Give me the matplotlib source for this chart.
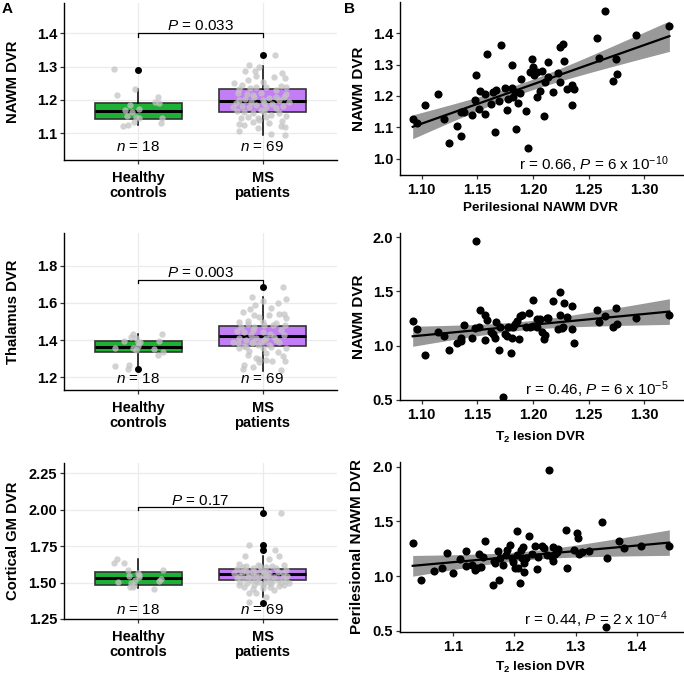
import numpy as np
import matplotlib
matplotlib.use("Agg")
import matplotlib.pyplot as plt

plt.rcParams['font.family'] = ['Liberation Sans', 'DejaVu Sans']
plt.rcParams['mathtext.fontset'] = 'custom'
plt.rcParams['mathtext.rm'] = 'Liberation Sans'
plt.rcParams['mathtext.it'] = 'Liberation Sans:italic'
plt.rcParams['mathtext.bf'] = 'Liberation Sans:bold'

# ---- panel A: box plots (whislo, q1, median, q3, whishi) ----
groups = ["Healthy\ncontrols", "MS\npatients"]
group_n = [18, 69]

nawm_hc_box = [1.125, 1.143, 1.168, 1.192, 1.232]
nawm_ms_box = [1.095, 1.164, 1.197, 1.232, 1.303]
nawm_hc_out = [1.291]
nawm_ms_out = [1.335]
nawm_p = "0.033"

thal_hc_box = [1.261, 1.338, 1.365, 1.395, 1.431]
thal_ms_box = [1.236, 1.368, 1.420, 1.478, 1.633]
thal_hc_out = [1.243]
thal_ms_out = [1.685]
thal_p = "0.003"

cort_hc_box = [1.465, 1.483, 1.534, 1.573, 1.660]
cort_ms_box = [1.403, 1.518, 1.559, 1.593, 1.683]
cort_hc_out = []
cort_ms_out = [1.980, 1.758, 1.724, 1.362]
cort_p = "0.17"

# individual subjects (value, jitter offset)
nawm_hc_y = [1.292, 1.216, 1.233, 1.208, 1.193, 1.190, 1.184, 1.170, 1.165, 1.173,
             1.152, 1.148, 1.145, 1.145, 1.135, 1.124, 1.123, 1.132]
nawm_hc_dx = [-0.198, -0.174, -0.027, 0.155, 0.131, 0.169, -0.067, -0.105, -0.051, 0.003,
              -0.091, -0.019, 0.008, 0.190, -0.038, -0.086, -0.121, 0.182]
nawm_ms_y = [1.305, 1.287, 1.287, 1.272, 1.335, 1.282, 1.267, 1.250, 1.245, 1.232,
             1.235, 1.238, 1.240, 1.242, 1.220, 1.217, 1.215, 1.222, 1.230, 1.210,
             1.218, 1.200, 1.202, 1.195, 1.200, 1.205, 1.200, 1.182, 1.178, 1.185,
             1.180, 1.188, 1.182, 1.168, 1.165, 1.160, 1.170, 1.155, 1.160, 1.145,
             1.145, 1.150, 1.152, 1.128, 1.135, 1.138, 1.132, 1.122, 1.118, 1.108,
             1.098, 1.095, 1.140, 1.175, 1.190, 1.210, 1.260, 1.255, 1.268, 1.210,
             1.190, 1.150, 1.165, 1.195, 1.180, 1.300, 1.238, 1.125, 1.115]
nawm_ms_dx = [-0.113, -0.139, -0.059, -0.054, 0.102, 0.155, 0.182, -0.228, -0.166, -0.188,
              -0.102, -0.054, 0.027, 0.147, -0.201, -0.129, -0.080, -0.013, 0.107, 0.174,
              0.193, -0.193, -0.139, -0.094, 0.0, 0.054, 0.134, -0.166, -0.113, -0.054,
              0.027, 0.075, 0.161, -0.209, -0.147, -0.080, -0.013, 0.067, 0.134, -0.174,
              -0.040, 0.027, 0.188, -0.193, -0.080, 0.155, 0.048, 0.147, 0.182, -0.188,
              0.067, 0.182, -0.027, 0.107, 0.013, -0.067, -0.121, 0.0, 0.094, 0.107,
              -0.214, -0.121, 0.013, 0.214, -0.241, -0.027, 0.188, -0.147, -0.040]

thal_hc_y = [1.261, 1.245, 1.266, 1.395, 1.418, 1.431, 1.410, 1.388, 1.388, 1.356,
             1.347, 1.370, 1.359, 1.352, 1.395, 1.435, 1.320, 1.338]
thal_hc_dx = [-0.193, -0.086, -0.078, -0.113, -0.059, -0.040, -0.019, -0.005, 0.013, -0.046,
              -0.019, -0.005, -0.193, 0.129, 0.169, 0.188, 0.155, 0.196]
thal_ms_y = [1.685, 1.633, 1.610, 1.601, 1.589, 1.549, 1.571, 1.621, 1.526, 1.538,
             1.538, 1.517, 1.567, 1.499, 1.485, 1.472, 1.481, 1.490, 1.481, 1.449,
             1.442, 1.454, 1.445, 1.431, 1.454, 1.410, 1.401, 1.413, 1.410, 1.418,
             1.427, 1.383, 1.370, 1.392, 1.388, 1.374, 1.388, 1.359, 1.341, 1.356,
             1.365, 1.359, 1.320, 1.306, 1.284, 1.293, 1.288, 1.288, 1.266, 1.257,
             1.239, 1.245, 1.299, 1.499, 1.503, 1.427, 1.338, 1.329, 1.472, 1.374,
             1.401, 1.535, 1.535, 1.365, 1.401, 1.316, 1.383, 1.481, 1.392]
thal_ms_dx = [0.161, -0.086, 0.0, 0.121, -0.059, -0.161, 0.067, 0.193, -0.032, 0.134,
              0.169, 0.188, -0.102, -0.193, -0.121, -0.067, 0.013, 0.107, 0.182, -0.209,
              -0.147, -0.080, 0.0, 0.059, 0.147, -0.188, -0.134, -0.054, 0.027, 0.094,
              0.174, -0.201, -0.153, -0.080, -0.013, 0.054, 0.134, -0.188, -0.107, 0.0,
              0.067, 0.188, -0.121, -0.054, -0.032, 0.027, 0.080, 0.182, -0.147, -0.075,
              0.147, -0.161, -0.027, 0.0, -0.121, -0.094, 0.121, 0.027, -0.174, -0.040,
              0.107, -0.067, 0.048, -0.134, 0.013, 0.161, -0.086, 0.086, -0.241]

cort_hc_y = [1.637, 1.662, 1.632, 1.586, 1.545, 1.552, 1.541, 1.495, 1.467, 1.483,
             1.467, 1.454, 1.513, 1.522, 1.586, 1.568, 1.506, 1.518]
cort_hc_dx = [-0.198, -0.174, -0.113, -0.086, -0.078, 0.003, 0.008, -0.059, -0.046, -0.032,
              -0.072, 0.129, 0.164, 0.182, 0.196, -0.005, -0.166, -0.024]
cort_ms_y = [1.980, 1.758, 1.724, 1.683, 1.660, 1.680, 1.628, 1.614, 1.598, 1.621,
             1.605, 1.614, 1.621, 1.591, 1.575, 1.559, 1.568, 1.552, 1.563, 1.575,
             1.586, 1.545, 1.529, 1.518, 1.536, 1.522, 1.541, 1.529, 1.506, 1.495,
             1.483, 1.499, 1.490, 1.499, 1.513, 1.467, 1.454, 1.460, 1.472, 1.476,
             1.431, 1.369, 1.403, 1.501, 1.568, 1.609, 1.545, 1.586, 1.545, 1.598,
             1.563, 1.541, 1.513, 1.575, 1.513, 1.483, 1.529, 1.582, 1.483, 1.449,
             1.426, 1.545, 1.559, 1.575, 1.518, 1.483, 1.614, 1.506, 1.495]
cort_ms_dx = [0.147, -0.113, 0.102, -0.139, 0.054, 0.134, -0.188, -0.134, -0.080, -0.040,
              0.027, 0.080, 0.174, -0.209, -0.166, -0.113, -0.054, 0.0, 0.054, 0.121,
              0.188, -0.193, -0.147, -0.094, -0.027, 0.027, 0.094, 0.161, -0.182, -0.129,
              -0.067, 0.013, 0.067, 0.147, 0.188, -0.147, -0.080, 0.0, 0.059, 0.134,
              -0.107, -0.113, 0.027, -0.040, -0.228, -0.161, -0.067, -0.013, 0.040, 0.107,
              0.161, -0.121, -0.054, 0.013, 0.080, 0.174, -0.209, -0.134, 0.0, 0.094,
              -0.054, 0.201, 0.027, -0.080, 0.121, -0.193, -0.021, 0.048, 0.214]

# ---- panel B: correlations in MS patients ----
peri_x = [1.0919, 1.0961, 1.1030, 1.1150, 1.1201, 1.1249, 1.1320, 1.1353, 1.1353, 1.1383,
          1.1449, 1.1479, 1.1488, 1.1518, 1.1524, 1.1569, 1.1572, 1.1590, 1.1620, 1.1644,
          1.1668, 1.1662, 1.1695, 1.1716, 1.1749, 1.1763, 1.1778, 1.1808, 1.1808, 1.1823,
          1.1838, 1.1847, 1.1868, 1.1883, 1.1892, 1.1937, 1.1958, 1.1973, 1.1988, 1.1997,
          1.2012, 1.2033, 1.2039, 1.2063, 1.2078, 1.2099, 1.2108, 1.2135, 1.2138, 1.2177,
          1.2228, 1.2243, 1.2243, 1.2266, 1.2281, 1.2302, 1.2347, 1.2347, 1.2368, 1.2578,
          1.2596, 1.2647, 1.2716, 1.2746, 1.2757, 1.2925, 1.3225]
peri_nawm_y = [1.1266, 1.1149, 1.1702, 1.2064, 1.1266, 1.0489, 1.1043, 1.0713, 1.1500, 1.1479,
               1.1394, 1.1872, 1.2681, 1.1585, 1.2160, 1.2053, 1.1426, 1.3351, 1.1755, 1.2138,
               1.2191, 1.0840, 1.1830, 1.3638, 1.2245, 1.1543, 1.1904, 1.2979, 1.2245, 1.1979,
               1.2138, 1.0947, 1.1787, 1.2085, 1.2543, 1.1532, 1.0351, 1.2777, 1.3170, 1.2936,
               1.2660, 1.2777, 1.1979, 1.2170, 1.2809, 1.1351, 1.2457, 1.3096, 1.2596, 1.2128,
               1.2745, 1.2447, 1.3553, 1.3649, 1.3128, 1.2213, 1.2340, 1.1702, 1.2234, 1.3862,
               1.3213, 1.4702, 1.2479, 1.3170, 1.2713, 1.3936, 1.4223]

t2a_x = [1.0919, 1.0961, 1.1030, 1.1150, 1.1201, 1.1249, 1.1320, 1.1353, 1.1353, 1.1383,
         1.1449, 1.1479, 1.1488, 1.1518, 1.1524, 1.1569, 1.1572, 1.1590, 1.1620, 1.1644,
         1.1668, 1.1662, 1.1695, 1.1704, 1.1749, 1.1763, 1.1778, 1.1799, 1.1808, 1.1823,
         1.1838, 1.1853, 1.1877, 1.1883, 1.1898, 1.1937, 1.1961, 1.1973, 1.2003, 1.2003,
         1.2033, 1.2063, 1.2078, 1.2099, 1.2108, 1.2135, 1.2177, 1.2228, 1.2243, 1.2243,
         1.2257, 1.2272, 1.2281, 1.2302, 1.2347, 1.2353, 1.2368, 1.2578, 1.2596, 1.2647,
         1.2716, 1.2746, 1.2757, 1.2925, 1.3225, 1.1728, 1.2123, 1.2033]
t2a_y = [1.2270, 1.1503, 0.9110, 1.1258, 1.0890, 0.9601, 1.0276, 1.0736, 1.0429, 1.1871,
         1.0675, 1.1656, 1.9693, 1.1718, 1.3252, 1.2822, 1.0521, 1.2362, 1.1258, 1.1043,
         1.2209, 1.0736, 0.9571, 1.1718, 1.1104, 1.0890, 1.1718, 0.9294, 1.0736, 1.1718,
         1.1963, 1.2270, 1.0644, 1.2730, 1.2822, 1.1748, 1.3037, 1.1748, 1.4172, 1.1779,
         1.2423, 1.2423, 1.1288, 1.0644, 1.0982, 1.2515, 1.4080, 1.1503, 1.4939, 1.2822,
         1.1656, 1.1718, 1.3957, 1.2638, 1.1503, 1.3650, 1.0276, 1.3252, 1.2178, 1.2730,
         1.1718, 1.3497, 1.1963, 1.2577, 1.2791, 0.5276, 1.2515, 1.1748]

t2b_x = [1.0334, 1.0465, 1.0684, 1.0809, 1.0902, 1.1000, 1.1109, 1.1207, 1.1207, 1.1300,
         1.1355, 1.1382, 1.1420, 1.1447, 1.1480, 1.1518, 1.1644, 1.1666, 1.1687, 1.1737,
         1.1753, 1.1764, 1.1807, 1.1862, 1.1884, 1.1927, 1.1955, 1.1982, 1.2009, 1.2037,
         1.2047, 1.2064, 1.2091, 1.2102, 1.2118, 1.2146, 1.2157, 1.2162, 1.2189, 1.2244,
         1.2337, 1.2364, 1.2391, 1.2446, 1.2484, 1.2528, 1.2571, 1.2609, 1.2626, 1.2637,
         1.2664, 1.2691, 1.2718, 1.2838, 1.2866, 1.2975, 1.3019, 1.3046, 1.3062, 1.3100,
         1.3226, 1.3428, 1.3520, 1.3717, 1.3799, 1.4066, 1.4535, 1.3493, 1.2282]
t2b_y = [1.3049, 0.9634, 1.0488, 1.0701, 1.2073, 1.0305, 1.1524, 1.2287, 1.0945, 1.1006,
         1.0549, 1.0701, 1.1982, 1.0854, 1.1768, 1.3201, 0.9177, 1.1372, 1.1159, 1.2287,
         0.9634, 1.1616, 1.1006, 1.1921, 1.2378, 1.2835, 1.1677, 1.1311, 1.0701, 1.4116,
         1.1921, 1.0701, 0.9390, 1.2378, 1.1616, 1.2683, 1.1159, 1.0335, 1.1616, 1.3659,
         1.2774, 1.0610, 1.1768, 1.2774, 1.2591, 1.1921, 1.9695, 1.1768, 1.1372, 1.2683,
         1.1982, 1.2226, 1.2439, 1.4207, 1.0701, 1.2378, 1.3963, 1.3506, 1.1982, 1.2226,
         1.2287, 1.4970, 1.1616, 1.3232, 1.2530, 1.2774, 1.2774, 0.5366, 1.1982]

W, H = 684, 675
fig = plt.figure(figsize=(W / 100, H / 100), dpi=100)


def px_axes(l, t, r, b):
    return fig.add_axes([l / W, 1 - b / H, (r - l) / W, (b - t) / H])


def style(ax):
    for s in ('top', 'right'):
        ax.spines[s].set_visible(False)
    for s in ('left', 'bottom'):
        ax.spines[s].set_linewidth(1.0)
        ax.spines[s].set_color('black')
    ax.tick_params(length=3, width=0.9, color='#333333', labelsize=10.5, pad=2)
    for lab in ax.get_xticklabels() + ax.get_yticklabels():
        lab.set_fontweight('bold')


def box_panel(ax, hc_box, ms_box, hc_out, ms_out, hc_y, hc_dx, ms_y, ms_dx,
              p_txt, bracket, p_y, n_y, ylim, yticks, fmt, ylabel):
    stats = []
    for b, o in ((hc_box, hc_out), (ms_box, ms_out)):
        stats.append(dict(whislo=b[0], q1=b[1], med=b[2], q3=b[3], whishi=b[4], fliers=o))
    bp = ax.bxp(stats, positions=[1, 2], widths=0.7, patch_artist=True, showcaps=False,
                boxprops=dict(edgecolor='#333333', linewidth=1.2),
                medianprops=dict(color='black', linewidth=2.2),
                whiskerprops=dict(color='black', linewidth=1.1),
                flierprops=dict(marker='o', markerfacecolor='black', markeredgecolor='black',
                                markersize=4), zorder=2)
    for patch, c in zip(bp['boxes'], ['#1DB236', '#C47EF5']):
        patch.set_facecolor(c)
    ax.scatter(1 + np.array(hc_dx), hc_y, s=21, color='#C4C4C4', alpha=0.75,
               linewidths=0, zorder=3)
    ax.scatter(2 + np.array(ms_dx), ms_y, s=21, color='#C4C4C4', alpha=0.75,
               linewidths=0, zorder=3)
    ax.plot([1, 1, 2, 2], bracket, color='black', linewidth=0.9, zorder=4)
    ax.text(1.5, p_y, r'$\mathit{P}$ = ' + p_txt, ha='center', va='center', fontsize=11)
    for i, n in enumerate(group_n):
        ax.text(i + 1, n_y, r'$\mathit{n}$ = %d' % n, ha='center', va='center', fontsize=11)
    ax.set_xlim(0.4, 2.6)
    ax.set_ylim(*ylim)
    ax.set_yticks(yticks)
    ax.set_yticklabels([fmt % v for v in yticks])
    ax.set_xticks([1, 2])
    ax.set_xticklabels(groups, linespacing=1.05)
    ax.grid(True, color='#EBEBEB', linewidth=0.9, zorder=0)
    ax.set_axisbelow(True)
    style(ax)
    ax.tick_params(axis='x', pad=5)
    ax.set_ylabel(ylabel, fontsize=10.7, fontweight='bold')
    ax.yaxis.set_label_coords(-0.163, 0.5)


def scatter_panel(ax, x, y, xlim, ylim, xticks, yticks, xfmt, xlabel, ylabel, ann, ann_y,
                  ylab_x, xlab_y):
    x = np.array(x)
    y = np.array(y)
    slope, icpt = np.polyfit(x, y, 1)
    xs = np.linspace(x.min(), x.max(), 100)
    fit = icpt + slope * xs
    resid = y - (icpt + slope * x)
    s = np.sqrt(np.sum(resid ** 2) / (len(x) - 2))
    se = s * np.sqrt(1 / len(x) + (xs - x.mean()) ** 2 / np.sum((x - x.mean()) ** 2))
    ax.fill_between(xs, fit - 1.996 * se, fit + 1.996 * se, color='#999999', linewidth=0,
                    zorder=1)
    ax.plot(xs, fit, color='black', linewidth=1.6, zorder=2)
    ax.scatter(x, y, s=34, color='black', linewidths=0, zorder=3)
    ax.set_xlim(*xlim)
    ax.set_ylim(*ylim)
    ax.set_xticks(xticks)
    ax.set_xticklabels([xfmt % v for v in xticks])
    ax.set_yticks(yticks)
    ax.set_yticklabels(['%.1f' % v for v in yticks])
    style(ax)
    ax.tick_params(axis='x', pad=3)
    ax.set_xlabel(xlabel, fontsize=9.7, fontweight='bold')
    ax.xaxis.set_label_coords(0.493, xlab_y)
    ax.set_ylabel(ylabel, fontsize=11, fontweight='bold')
    ax.yaxis.set_label_coords(ylab_x, 0.5)
    ax.text(0.944, ann_y, ann, transform=ax.transAxes, ha='right', va='baseline',
            fontsize=11)


a1 = px_axes(64, 3, 337, 160)
box_panel(a1, nawm_hc_box, nawm_ms_box, nawm_hc_out, nawm_ms_out, nawm_hc_y, nawm_hc_dx,
          nawm_ms_y, nawm_ms_dx, nawm_p, [1.39, 1.40, 1.40, 1.39], 1.423, 1.06,
          (1.0199, 1.491), [1.1, 1.2, 1.3, 1.4], '%.1f', 'NAWM DVR')

a2 = px_axes(64, 233, 337, 390)
box_panel(a2, thal_hc_box, thal_ms_box, thal_hc_out, thal_ms_out, thal_hc_y, thal_hc_dx,
          thal_ms_y, thal_ms_dx, thal_p, [1.705, 1.723, 1.723, 1.705], 1.760, 1.191,
          (1.1317, 1.9758), [1.2, 1.4, 1.6, 1.8], '%.1f', 'Thalamus DVR')

a3 = px_axes(64, 463, 337, 619)
box_panel(a3, cort_hc_box, cort_ms_box, cort_hc_out, cort_ms_out, cort_hc_y, cort_hc_dx,
          cort_ms_y, cort_ms_dx, cort_p, [1.998, 2.021, 2.021, 1.998], 2.063, 1.312,
          (1.2507, 2.3206), [1.25, 1.50, 1.75, 2.00, 2.25], '%.2f', 'Cortical GM DVR')

t2_label = r'T$_{\mathregular{2}}$ lesion DVR'

b1 = px_axes(400, 2, 684, 175)
scatter_panel(b1, peri_x, peri_nawm_y, (1.0805, 1.3356), (0.948, 1.4997),
              [1.10, 1.15, 1.20, 1.25, 1.30], [1.0, 1.1, 1.2, 1.3, 1.4], '%.2f',
              'Perilesional NAWM DVR', 'NAWM DVR',
              r'r = 0.66, $\mathit{P}$ = 6 x 10$^{\mathregular{-10}}$', 0.03, -0.12, -0.155)

b2 = px_axes(400, 233, 684, 400)
scatter_panel(b2, t2a_x, t2a_y, (1.0805, 1.3356), (0.497, 2.04),
              [1.10, 1.15, 1.20, 1.25, 1.30], [0.5, 1.0, 1.5, 2.0], '%.2f',
              t2_label, 'NAWM DVR',
              r'r = 0.46, $\mathit{P}$ = 6 x 10$^{\mathregular{-5}}$', 0.03, -0.12, -0.18)

b3 = px_axes(400, 462, 684, 632)
scatter_panel(b3, t2b_x, t2b_y, (1.0126, 1.4775), (0.4877, 2.043),
              [1.1, 1.2, 1.3, 1.4], [0.5, 1.0, 1.5, 2.0], '%.1f',
              t2_label, 'Perilesional NAWM DVR',
              r'r = 0.44, $\mathit{P}$ = 2 x 10$^{\mathregular{-4}}$', 0.04, -0.128, -0.165)

fig.text(2 / W, 1 - 9 / H, 'A', fontsize=11, fontweight='bold', va='center', ha='left')
fig.text(344 / W, 1 - 9 / H, 'B', fontsize=11, fontweight='bold', va='center', ha='left')

fig.savefig('out.png', dpi=100)
